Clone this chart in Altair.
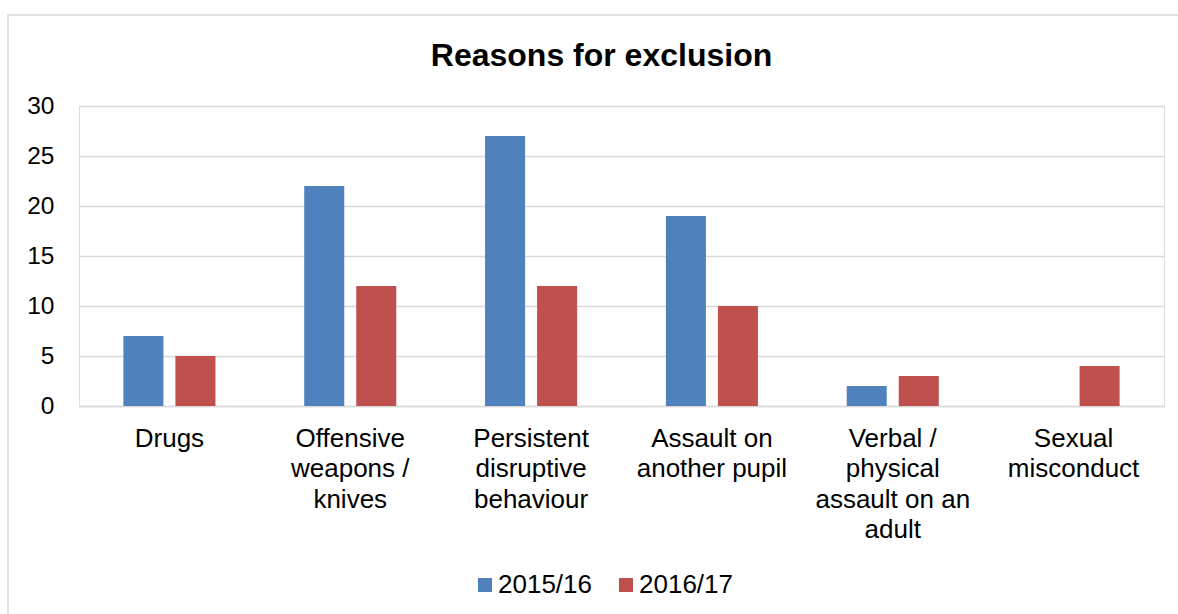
import altair as alt
import pandas as pd

categories = [
    "Drugs",
    "Offensive weapons / knives",
    "Persistent disruptive behaviour",
    "Assault on another pupil",
    "Verbal / physical assault on an adult",
    "Sexual misconduct",
]
label_lines = [
    "Drugs",
    "Offensive|weapons /|knives",
    "Persistent|disruptive|behaviour",
    "Assault on|another pupil",
    "Verbal /|physical|assault on an|adult",
    "Sexual|misconduct",
]
years = ["2015/16", "2016/17"]
values_2015 = [7, 22, 27, 19, 2, None]
values_2016 = [5, 12, 12, 10, 3, 4]
colors = ["#4F81BD", "#C0504D"]
y_ticks = [0, 5, 10, 15, 20, 25, 30]

rows = []
for lab, v1, v2 in zip(label_lines, values_2015, values_2016):
    if v1 is not None:
        rows.append({"category": lab, "year": years[0], "value": v1})
    if v2 is not None:
        rows.append({"category": lab, "year": years[1], "value": v2})
df = pd.DataFrame(rows)

FONT = "Liberation Sans"

bars = alt.Chart(df).mark_bar().encode(
    x=alt.X(
        "category:N",
        sort=label_lines,
        title=None,
        scale=alt.Scale(paddingInner=0.491, paddingOuter=0.2455),
        axis=alt.Axis(
            labelExpr="split(datum.label, '|')",
            labelAngle=0,
            labelFontSize=26,
            labelLineHeight=30.5,
            labelFont=FONT,
            labelColor="#000000",
            labelLimit=0,
            labelPadding=19,
            ticks=False,
            tickSize=0,
            domainColor="#d9d9d9",
            domainWidth=1.5,
            grid=False,
        ),
    ),
    xOffset=alt.XOffset(
        "year:N",
        sort=years,
        scale=alt.Scale(domain=years, paddingInner=0.2308, paddingOuter=0),
    ),
    y=alt.Y(
        "value:Q",
        title=None,
        scale=alt.Scale(domain=[0, 30], nice=False),
        axis=alt.Axis(
            values=y_ticks,
            labelFontSize=24.5,
            labelFont=FONT,
            labelColor="#000000",
            labelPadding=25,
            ticks=False,
            tickSize=0,
            domain=False,
            gridColor="#d9d9d9",
            gridWidth=1.5,
        ),
    ),
    color=alt.Color(
        "year:N",
        sort=years,
        scale=alt.Scale(domain=years, range=colors),
        legend=alt.Legend(
            title=None,
            orient="none",
            direction="horizontal",
            legendX=393,
            legendY=466,
            symbolType="square",
            symbolSize=196,
            symbolStrokeWidth=0,
            labelFontSize=26,
            labelFont=FONT,
            labelColor="#000000",
            labelOffset=0,
            columnPadding=21,
        ),
    ),
)

border = alt.Chart(pd.DataFrame({"b": [0]})).mark_rect(
    fill="transparent", stroke="#d9d9d9", strokeWidth=1.5
).encode(
    x=alt.value(-71), x2=alt.value(1130), y=alt.value(-91), y2=alt.value(530)
)

chart = alt.layer(border, bars).properties(
    width=1085,
    height=300,
    autosize=alt.AutoSizeParams(type="none"),
    padding={"left": 79, "top": 106, "right": 14, "bottom": 208},
    title=alt.Title(
        "Reasons for exclusion",
        fontSize=32,
        font=FONT,
        fontWeight="bold",
        color="#000000",
        anchor="middle",
        frame="group",
        baseline="alphabetic",
        dx=-20,
        offset=-84,
    ),
).configure_view(stroke=None).configure(background="white")

chart.save("out.html", embed_options={"renderer": "svg", "actions": False})
